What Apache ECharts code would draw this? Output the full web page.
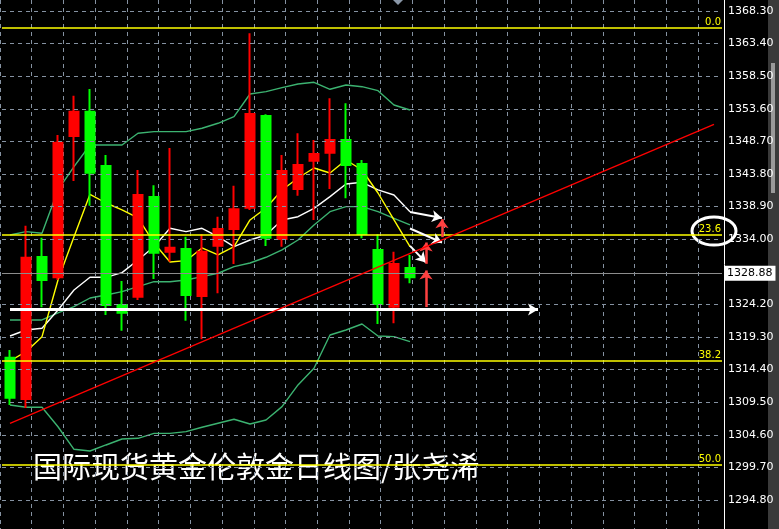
<!DOCTYPE html>
<html><head><meta charset="utf-8">
<script src="https://cdn.jsdelivr.net/npm/echarts@6/dist/echarts.min.js"></script>
<style>html,body{margin:0;padding:0;background:#000}#c{width:779px;height:529px}</style>
</head><body><div id="c"></div>
<script>
// OHLC per daily candle: [open, close, low, high]
const candles = [
 [1310.18,1316.19,1309.08,1317.35],
 [1331.22,1309.98,1308.63,1336.03],
 [1327.87,1331.32,1323.76,1334.22],
 [1348.50,1328.27,1327.87,1349.66],
 [1353.16,1349.51,1342.75,1355.57],
 [1344.00,1353.16,1339.04,1356.58],
 [1324.11,1345.00,1322.60,1346.66],
 [1322.95,1324.11,1320.25,1327.72],
 [1340.64,1325.36,1324.86,1344.40],
 [1331.97,1340.34,1328.02,1342.10],
 [1332.72,1332.12,1330.62,1347.71],
 [1325.61,1332.53,1321.75,1334.38],
 [1332.12,1325.46,1318.95,1334.74],
 [1335.53,1333.02,1325.87,1337.38],
 [1338.49,1335.53,1330.27,1342.04],
 [1352.82,1338.73,1338.39,1364.95],
 [1334.23,1352.52,1332.98,1352.77],
 [1344.25,1334.03,1332.87,1346.66],
 [1345.15,1341.55,1340.54,1349.92],
 [1346.81,1345.80,1336.89,1348.91],
 [1348.91,1347.00,1341.55,1355.18],
 [1345.15,1348.91,1340.15,1354.43],
 [1334.78,1345.30,1334.14,1345.90],
 [1324.26,1332.38,1321.25,1334.74],
 [1330.27,1323.86,1321.36,1332.12],
 [1328.27,1329.67,1327.37,1331.63]
];
const maFast = [1315.69,1317.09,1319.35,1327.87,1334.38,1340.75,1339.44,1338.39,1337.19,1333.43,1330.57,1330.77,1332.68,1331.63,1332.87,1336.89,1338.69,1341.40,1343.20,1344.70,1343.95,1345.90,1344.40,1340.94,1336.89,1332.87];
const maSlow = [1319.45,1320.35,1320.61,1323.36,1326.36,1328.27,1328.27,1328.97,1330.87,1332.87,1335.64,1335.13,1335.64,1334.38,1332.87,1333.88,1334.63,1336.89,1337.38,1338.64,1340.39,1342.30,1342.55,1341.40,1340.64,1338.13];
const bbUpper = [1334.63,1335.13,1334.89,1341.40,1344.90,1348.16,1348.16,1348.16,1349.92,1350.16,1350.16,1350.16,1350.67,1351.42,1352.41,1355.82,1356.17,1356.77,1357.33,1357.58,1356.53,1357.18,1356.92,1356.32,1354.17,1353.42];
const bbMid = [1321.86,1321.86,1321.86,1322.91,1323.86,1325.16,1325.61,1326.11,1326.86,1327.61,1327.61,1327.87,1328.37,1328.88,1329.87,1330.42,1331.28,1332.38,1333.88,1336.14,1338.13,1338.89,1338.89,1338.13,1337.14,1336.14];
const bbLower = [1309.08,1308.73,1308.73,1305.81,1302.42,1302.16,1303.07,1303.97,1304.07,1304.82,1304.82,1305.07,1305.73,1306.33,1306.93,1306.22,1306.83,1308.83,1312.09,1314.60,1319.60,1320.35,1321.25,1319.45,1319.35,1318.60];
const yTicks = [1294.8,1299.7,1304.6,1309.5,1314.4,1319.3,1324.2,1329.1,1334.0,1338.9,1343.8,1348.7,1353.6,1358.5,1363.4,1368.3];
const fibLevels = [['0.0',1365.74],['23.6',1334.63],['38.2',1315.69],['50.0',1300.06]];
const lastPrice = 1328.88;
const supportLevel = 1323.43;
const trendStart = 1306.33, trendEnd = 1351.27; // at slot 0 and slot 44
const nSlots = 45;
const cats = Array.from({length:nSlots},(_,i)=>String(i));
const title = '国际现货黄金伦敦金日线图/张尧浠';
const Y0 = 1290.44, Y1 = 1369.95;

const chart = echarts.init(document.getElementById('c'));
const pad = a => a.concat(Array(nSlots - a.length).fill('-'));
const lineS = (d,c) => ({type:'line',data:pad(d),symbol:'none',lineStyle:{color:c,width:1.4},silent:true,z:3});
const gridStyle = {color:'#8592a2',type:[4,4],width:1};
const tickLines = yTicks.filter(v=>Math.abs(v-1329.1)>0.01).map(v=>({yAxis:v,lineStyle:gridStyle,label:{formatter:v.toFixed(2)}}));
const fibSeries = fibLevels.map(f=>({type:'line',data:pad([]),symbol:'none',silent:true,z:7,
  markLine:{symbol:'none',silent:true,lineStyle:{color:'#ffff00',type:'solid',width:1.5},
    label:{position:'insideEndTop',color:'#ffff00',fontSize:10,fontFamily:'DejaVu Sans',distance:1},
    data:[{yAxis:f[1],label:{formatter:f[0]}}]}}));
chart.setOption({
  backgroundColor:'#000',
  animation:false,
  grid:[{left:2,right:57,top:0,bottom:0},{left:-6,right:81,top:0,bottom:0}],
  xAxis:[{type:'category',data:cats,boundaryGap:true,show:false},
         {type:'value',gridIndex:1,min:-2,max:42,interval:2,axisLine:{show:false},axisTick:{show:false},axisLabel:{show:false},
          splitLine:{show:true,lineStyle:gridStyle}}],
  yAxis:[{type:'value',min:Y0,max:Y1,show:false,scale:true},
         {type:'value',gridIndex:1,min:0,max:1,show:false}],
  series:[
    {type:'line',xAxisIndex:1,yAxisIndex:1,data:[],silent:true},
    {type:'line',data:pad([]),symbol:'none',silent:true,z:1,
     markLine:{symbol:'none',silent:true,lineStyle:gridStyle,
       label:{position:'end',color:'#fff',fontSize:11,fontFamily:'DejaVu Sans',distance:6},
       data:tickLines}},
    ...fibSeries,
    {type:'line',data:pad([]),symbol:'none',silent:true,z:2,
     markLine:{symbol:'none',silent:true,lineStyle:{color:'#8c8c8c',type:'solid',width:1},
       label:{position:'end',color:'#000',backgroundColor:'#fff',padding:[2,3],fontSize:11,fontFamily:'DejaVu Sans',distance:2},
       data:[{yAxis:lastPrice,label:{formatter:lastPrice.toFixed(2)}}]}},
    lineS(bbUpper,'#3cb371'),lineS(bbMid,'#3cb371'),lineS(bbLower,'#3cb371'),
    lineS(maSlow,'#ffffff'),lineS(maFast,'#ffff00'),
    {type:'candlestick',data:candles,barWidth:10,z:4,
     itemStyle:{color:'#00ff00',color0:'#ff0000',borderColor:'#00ff00',borderColor0:'#ff0000',borderWidth:2}},
    {type:'line',data:[[0,trendStart],[44,trendEnd]].map(p=>[String(p[0]),p[1]]),symbol:'none',lineStyle:{color:'#ff0000',width:1.3},z:5,silent:true},
    {type:'line',data:pad([]),symbol:'none',silent:true,z:6,
     markLine:{silent:true,label:{show:false},
       data:[
        [{coord:['0',supportLevel],symbol:'none'},{coord:['33',supportLevel],symbol:'arrow',symbolSize:[9,10],lineStyle:{color:'#fff',width:3,type:'solid'}}],
        [{coord:['25',1338.1],symbol:'none'},{coord:['27',1337.2],symbol:'arrow',symbolSize:[9,10],lineStyle:{color:'#fff',width:2,type:'solid'}}],
        [{coord:['25',1335.6],symbol:'none'},{coord:['27',1333.5],symbol:'arrow',symbolSize:[9,10],lineStyle:{color:'#fff',width:2,type:'solid'}}],
        [{coord:['25',1333.0],symbol:'none'},{coord:['26',1330.5],symbol:'arrow',symbolSize:[9,10],lineStyle:{color:'#fff',width:2,type:'solid'}}],
        [{coord:['27',1334.3],symbol:'none'},{coord:['27',1337.0],symbol:'arrow',symbolSize:[10,9],lineStyle:{color:'#ff4040',width:2.5,type:'solid'}}],
        [{coord:['26',1330.3],symbol:'none'},{coord:['26',1333.5],symbol:'arrow',symbolSize:[10,9],lineStyle:{color:'#ff4040',width:2.5,type:'solid'}}],
        [{coord:['26',1323.8],symbol:'none'},{coord:['26',1329.3],symbol:'arrow',symbolSize:[10,9],lineStyle:{color:'#ff4040',width:2.5,type:'solid'}}]
       ]}}
  ],
  graphic:[
    {type:'line',shape:{x1:724.5,y1:0,x2:724.5,y2:529},style:{stroke:'#fff',lineWidth:1}},
    {type:'rect',shape:{x:768,y:0,width:11,height:529},style:{fill:'#3a3a3a'}},
    {type:'rect',shape:{x:771,y:63,width:4,height:130},style:{fill:'#9a9a9a'}},
    {type:'polygon',shape:{points:[[393,0],[403,0],[398,5]]},style:{fill:'#8a97a8'}},
    {type:'ellipse',shape:{cx:714,cy:231,rx:22,ry:14},style:{fill:'none',stroke:'#fff',lineWidth:3}},
    {type:'text',x:33,y:452,style:{text:title,fill:'#fff',font:'29px "Noto Sans CJK SC"'}}
  ]
});
</script></body></html>
